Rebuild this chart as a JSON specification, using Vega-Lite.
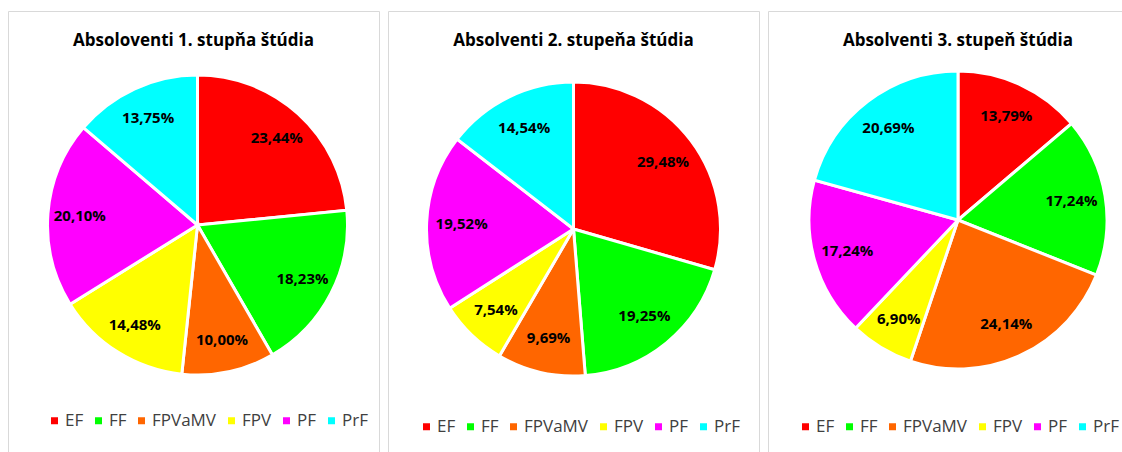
{
  "$schema": "https://vega.github.io/schema/vega-lite/v6.json",
  "padding": {"left": 7, "top": 10, "right": 0, "bottom": 0},
  "background": "white",
  "spacing": 7,
  "datasets": {
    "d1": [
      {"i": 1, "f": "EF", "v": 23.44},
      {"i": 2, "f": "FF", "v": 18.23},
      {"i": 3, "f": "FPVaMV", "v": 10.00},
      {"i": 4, "f": "FPV", "v": 14.48},
      {"i": 5, "f": "PF", "v": 20.10},
      {"i": 6, "f": "PrF", "v": 13.75}
    ],
    "d2": [
      {"i": 1, "f": "EF", "v": 29.48},
      {"i": 2, "f": "FF", "v": 19.25},
      {"i": 3, "f": "FPVaMV", "v": 9.69},
      {"i": 4, "f": "FPV", "v": 7.54},
      {"i": 5, "f": "PF", "v": 19.52},
      {"i": 6, "f": "PrF", "v": 14.54}
    ],
    "d3": [
      {"i": 1, "f": "EF", "v": 13.79},
      {"i": 2, "f": "FF", "v": 17.24},
      {"i": 3, "f": "FPVaMV", "v": 24.14},
      {"i": 4, "f": "FPV", "v": 6.90},
      {"i": 5, "f": "PF", "v": 17.24},
      {"i": 6, "f": "PrF", "v": 20.69}
    ]
  },
  "config": {
    "view": {"stroke": "#d9d9d9", "strokeWidth": 1},
    "font": "Open Sans",
    "title": {"font": "Open Sans", "fontSize": 17, "fontWeight": "bold", "color": "black", "anchor": "middle", "offset": -39, "baseline": "alphabetic"},
    "legend": {
      "orient": "none", "direction": "horizontal", "columns": 6, "title": null,
      "symbolType": "square", "symbolSize": 49, "symbolStrokeWidth": 0,
      "labelFont": "Open Sans", "labelFontSize": 17, "labelColor": "#404040",
      "columnPadding": 6, "labelOffset": 2
    }
  },
  "resolve": {"scale": {"color": "independent"}, "legend": {"color": "independent"}},
  "hconcat": [
    {
      "width": 371, "height": 444,
      "view": {"stroke": "#d9d9d9", "strokeWidth": 1},
      "title": "Absoloventi 1. stupňa štúdia",
      "data": {"name": "d1"},
      "transform": [{"calculate": "replace(format(datum.v, '.2f'), '.', ',') + '%'", "as": "label"}],
      "encoding": {
        "theta": {"field": "v", "type": "quantitative", "stack": true},
        "order": {"field": "i", "type": "quantitative"}
      },
      "layer": [
        {
          "mark": {"type": "arc", "outerRadius": 150, "stroke": "white", "strokeWidth": 3, "xOffset": 4, "yOffset": -8},
          "encoding": {
            "color": {"field": "f", "type": "nominal", "sort": null,
              "scale": {"domain": ["EF", "FF", "FPVaMV", "FPV", "PF", "PrF"], "range": ["#ff0000", "#00ff00", "#ff6600", "#ffff00", "#ff00ff", "#00ffff"]},
              "legend": {"legendX": 38, "legendY": 401, "labelFontSize": 17}}
          }
        },
        {
          "mark": {"type": "text", "radius": 118, "fontWeight": "bold", "fontSize": 15, "color": "black", "xOffset": 4, "yOffset": -8},
          "encoding": {"text": {"field": "label"}}
        }
      ]
    },
    {
      "width": 371, "height": 444,
      "view": {"stroke": "#d9d9d9", "strokeWidth": 1},
      "title": "Absolventi 2. stupeňa štúdia",
      "data": {"name": "d2"},
      "transform": [{"calculate": "replace(format(datum.v, '.2f'), '.', ',') + '%'", "as": "label"}],
      "encoding": {
        "theta": {"field": "v", "type": "quantitative", "stack": true},
        "order": {"field": "i", "type": "quantitative"}
      },
      "layer": [
        {
          "mark": {"type": "arc", "outerRadius": 147, "stroke": "white", "strokeWidth": 3, "yOffset": -4},
          "encoding": {
            "color": {"field": "f", "type": "nominal", "sort": null,
              "scale": {"domain": ["EF", "FF", "FPVaMV", "FPV", "PF", "PrF"], "range": ["#ff0000", "#00ff00", "#ff6600", "#ffff00", "#ff00ff", "#00ffff"]},
              "legend": {"legendX": 30, "legendY": 407, "labelFontSize": 17}}
          }
        },
        {
          "mark": {"type": "text", "radius": 112, "fontWeight": "bold", "fontSize": 15, "color": "black", "yOffset": -4},
          "encoding": {"text": {"field": "label"}}
        }
      ]
    },
    {
      "width": 380, "height": 444,
      "view": {"stroke": "#d9d9d9", "strokeWidth": 1},
      "title": "Absolventi 3. stupeň štúdia",
      "data": {"name": "d3"},
      "transform": [{"calculate": "replace(format(datum.v, '.2f'), '.', ',') + '%'", "as": "label"}],
      "encoding": {
        "theta": {"field": "v", "type": "quantitative", "stack": true},
        "order": {"field": "i", "type": "quantitative"}
      },
      "layer": [
        {
          "mark": {"type": "arc", "outerRadius": 149, "stroke": "white", "strokeWidth": 3, "yOffset": -13},
          "encoding": {
            "color": {"field": "f", "type": "nominal", "sort": null,
              "scale": {"domain": ["EF", "FF", "FPVaMV", "FPV", "PF", "PrF"], "range": ["#ff0000", "#00ff00", "#ff6600", "#ffff00", "#ff00ff", "#00ffff"]},
              "legend": {"legendX": 29, "legendY": 407, "labelFontSize": 17}}
          }
        },
        {
          "mark": {"type": "text", "radius": 115, "fontWeight": "bold", "fontSize": 15, "color": "black", "yOffset": -13},
          "encoding": {"text": {"field": "label"}}
        }
      ]
    }
  ]
}
